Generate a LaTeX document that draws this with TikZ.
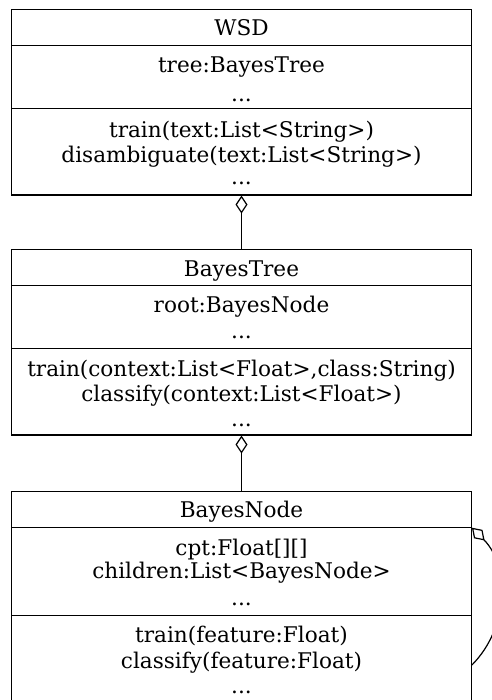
\documentclass[tikz,border=0pt]{standalone}
\usepackage{fontspec}
\setmainfont{DejaVu Serif}
\usetikzlibrary{arrows.meta}
\begin{document}
\begin{tikzpicture}[x=1pt,y=-1pt,
  line width=1.2pt,
  box/.style={draw, rectangle, minimum width=459.6pt, inner sep=0pt},
  txt/.style={font=\fontsize{21.6}{26}\selectfont, inner sep=0pt, anchor=base},
  agg/.style={{Diamond[open,length=18pt,width=12pt]}-}
]
\useasboundingbox (0,0) rectangle (491,700);
% WSD
\node[box, minimum height=185.7pt] (wsd) at (241.5,102.15) {};
\draw (wsd.west |- 0,45.7) coordinate (w1) -- (wsd.east |- w1);
\draw (wsd.west |- 0,108.3) coordinate (w2) -- (wsd.east |- w2);
\node[txt] (wsdt) at (241.5,36) {WSD};
\node[txt] (wsda1) at (241.5,73) {tree:BayesTree};
\node[txt] (wsda2) at (241.5,101.5) {...};
\node[txt] (wsdm1) at (241.5,138) {train(text:List<String>)};
\node[txt] (wsdm2) at (241.5,163) {disambiguate(text:List<String>)};
\node[txt] (wsdm3) at (241.5,185) {...};
% BayesTree
\node[box, minimum height=185.7pt] (bt) at (241.5,342.15) {};
\draw (bt.west |- 0,285.7) coordinate (t1) -- (bt.east |- t1);
\draw (bt.west |- 0,348.3) coordinate (t2) -- (bt.east |- t2);
\node[txt] (btt) at (241.5,276) {BayesTree};
\node[txt] (bta1) at (241.5,312.7) {root:BayesNode};
\node[txt] (bta2) at (241.5,338) {...};
\node[txt] (btm1) at (241.5,376.7) {train(context:List<Float>,class:String)};
\node[txt] (btm2) at (241.5,401.7) {classify(context:List<Float>)};
\node[txt] (btm3) at (241.5,426.5) {...};
% BayesNode
\node[box, minimum height=212pt] (bn) at (241.5,597.7) {};
\draw (bn.west |- 0,527.7) coordinate (n1) -- (bn.east |- n1) coordinate (n1e);
\draw (bn.west |- 0,615.7) coordinate (n2) -- (bn.east |- n2);
\node[txt] (bnt) at (241.5,517) {BayesNode};
\node[txt] (bna1) at (241.5,555) {cpt:Float[][]};
\node[txt] (bna2) at (241.5,578) {children:List<BayesNode>};
\node[txt] (bna3) at (241.5,605) {...};
\node[txt] (bnm1) at (241.5,642.7) {train(feature:Float)};
\node[txt] (bnm2) at (241.5,668) {classify(feature:Float)};
\node[txt] (bnm3) at (241.5,693) {...};
% connectors
\draw[agg] (wsd.south) -- (bt.north);
\draw[agg] (bt.south) -- (bn.north);
\coordinate (loopend) at (bn.east |- 0,665);
\draw[agg] (n1e) .. controls (509.4,565.4) and (509.4,627.3) .. (loopend);
\end{tikzpicture}
\end{document}
